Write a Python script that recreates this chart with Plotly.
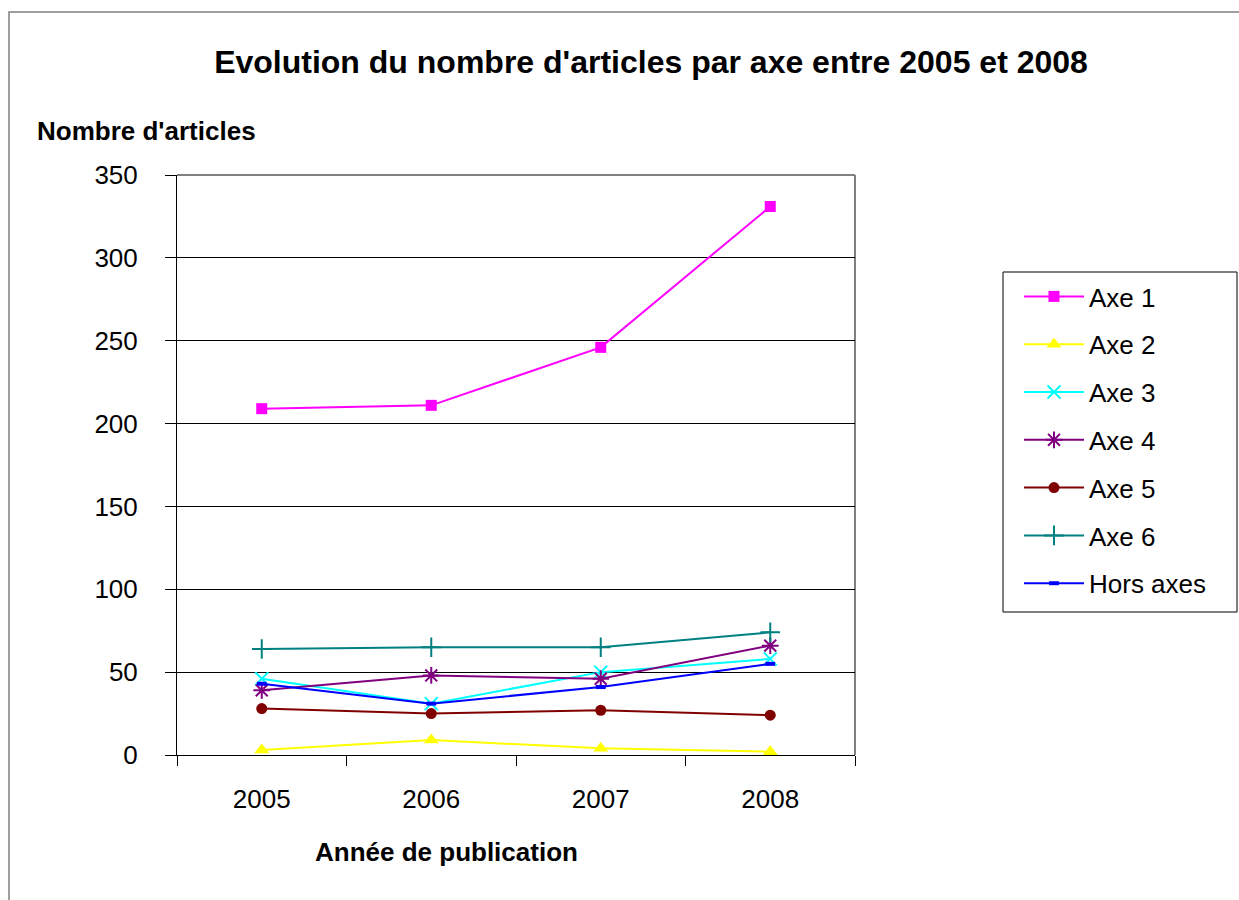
import plotly.graph_objects as go

years = ["2005", "2006", "2007", "2008"]
axe1 = [209, 211, 246, 331]
axe2 = [3, 9, 4, 2]
axe3 = [46, 31, 50, 58]
axe4 = [39, 48, 46, 66]
axe5 = [28, 25, 27, 24]
axe6 = [64, 65, 65, 74]
hors_axes = [43, 31, 41, 55]

series_names = ["Axe 1", "Axe 2", "Axe 3", "Axe 4", "Axe 5", "Axe 6", "Hors axes"]
series_values = [axe1, axe2, axe3, axe4, axe5, axe6, hors_axes]
colors = ["#FF00FF", "#FFFF00", "#00FFFF", "#800080", "#800000", "#008080", "#0000FF"]
symbols = ["square", "triangle-up", "x-thin-open", "asterisk-open", "circle",
           "cross-thin-open", "line-ew-open"]
sizes = [11, 13, 13, 14, 11, 14, 7]
mline = [0, 0, 2, 2, 0, 2, 4]

W, H = 1239, 900
L, R, T, B = 177, 855, 175, 755
pw, ph = R - L, B - T

def px(x):
    return (x - L) / pw

def py(y):
    return (B - y) / ph

fig = go.Figure()
for i, (n, v) in enumerate(zip(series_names, series_values)):
    fig.add_trace(go.Scatter(
        x=years, y=v, name=n, mode="lines+markers",
        legendgroup=n,
        line=dict(color=colors[i], width=2),
        marker=dict(symbol=symbols[i], size=sizes[i], color=colors[i],
                    line=dict(color=colors[i], width=mline[i])),
    ))

font = "Liberation Sans, Arial, sans-serif"
fig.update_layout(
    width=W, height=H,
    margin=dict(l=L, r=W - R, t=T, b=H - B),
    paper_bgcolor="white", plot_bgcolor="white",
    font=dict(family=font, color="black", size=26),
    showlegend=True,
    title=dict(text="<b>Evolution du nombre d'articles par axe entre 2005 et 2008</b>",
               x=651 / W, xanchor="center", y=1 - 62 / H, yanchor="middle",
               font=dict(size=32, family=font, color="black")),
    legend=dict(x=px(1019), y=py(273), xanchor="left", yanchor="top",
                borderwidth=0, bgcolor="rgba(0,0,0,0)",
                font=dict(size=26, family=font, color="black"),
                traceorder="grouped", tracegroupgap=11, itemwidth=60),
    xaxis=dict(type="category", range=[-0.5, 3.5], showgrid=False,
               showline=True, linecolor="black", linewidth=1,
               ticks="outside", ticklen=10, tickcolor="black",
               tickson="boundaries", ticklabelstandoff=21,
               tickfont=dict(size=26), zeroline=False, fixedrange=True),
    yaxis=dict(range=[0, 350], dtick=50, showgrid=True, gridcolor="black",
               gridwidth=1, showline=True, linecolor="black", linewidth=1,
               ticks="outside", ticklen=11, tickcolor="black",
               ticklabelstandoff=22, tickfont=dict(size=26),
               zeroline=False, fixedrange=True),
    shapes=[
        dict(type="rect", xref="paper", yref="paper", x0=px(9), x1=px(1260),
             y0=py(920), y1=py(12), line=dict(color="#808080", width=1.5),
             layer="below"),
        dict(type="line", xref="paper", yref="paper", x0=0, x1=1, y0=1, y1=1,
             line=dict(color="#808080", width=2), layer="below"),
        dict(type="line", xref="paper", yref="paper", x0=1, x1=1, y0=0, y1=1,
             line=dict(color="#808080", width=2), layer="below"),
        dict(type="rect", xref="paper", yref="paper", x0=px(1003), x1=px(1237),
             y0=py(612), y1=py(272), line=dict(color="black", width=1),
             fillcolor="white", layer="below"),
    ],
    annotations=[
        dict(text="<b>Nombre d'articles</b>", xref="paper", yref="paper",
             x=px(35), y=py(131), xanchor="left", yanchor="middle",
             showarrow=False, font=dict(size=26, family=font, color="black")),
        dict(text="<b>Année de publication</b>", xref="paper", yref="paper",
             x=px(446), y=py(852), xanchor="center", yanchor="middle",
             showarrow=False, font=dict(size=26, family=font, color="black")),
    ],
)

fig.write_html("out.html", config={"displayModeBar": False},
               post_script="document.body.style.margin='0';document.body.style.padding='0';")
